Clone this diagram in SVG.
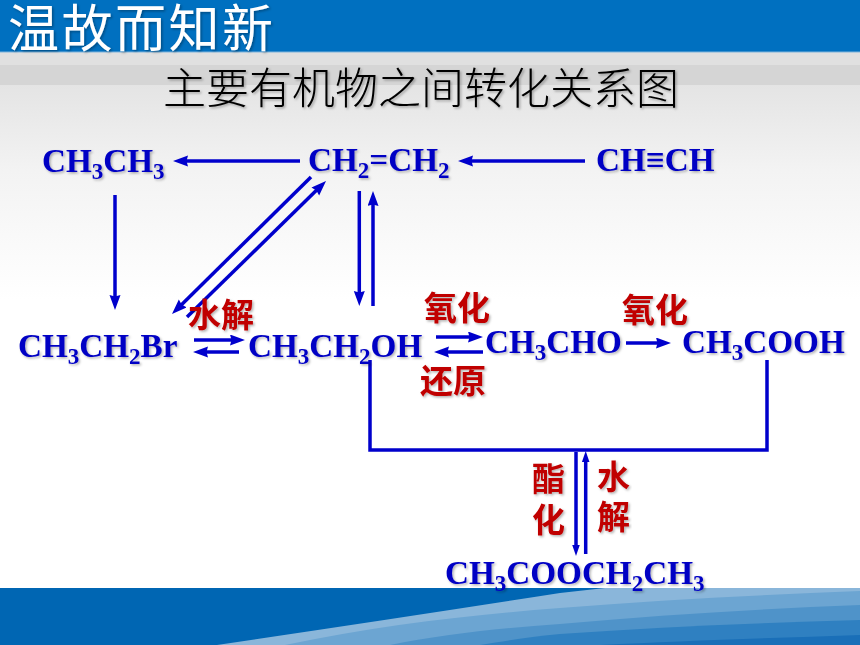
<svg xmlns="http://www.w3.org/2000/svg" width="860" height="645" viewBox="0 0 860 645">
<style>
.f{font-family:"Liberation Serif",serif;font-weight:700;font-size:33.2px;fill:#0000c4;filter:url(#s)}
.s{font-size:23px}
.c{font-family:"Liberation Sans","Noto Sans CJK SC",sans-serif}
.r{font-weight:700;font-size:33px;fill:#c00000;filter:url(#s)}
.l{fill:none;stroke:#0000cc;stroke-width:3.5}
.a{marker-end:url(#h)}
.b{marker-end:url(#m)}
</style>
<defs>
<linearGradient id="bg" x1="0" y1="0" x2="0" y2="1"><stop offset="0" stop-color="#e4e4e4"/><stop offset=".4" stop-color="#f3f3f3"/><stop offset="1" stop-color="#ffffff"/></linearGradient>
<filter id="s" x="-5%" y="-10%" width="110%" height="125%"><feDropShadow dx="1.5" dy="1.5" stdDeviation="1" flood-color="#000" flood-opacity=".3"/></filter>
<marker id="h" markerUnits="userSpaceOnUse" markerWidth="16" markerHeight="12" refX="7" refY="5.5" orient="auto"><path d="M0 0L15 5.5L0 11L1.5 5.5Z" fill="#0000cc"/></marker>
<marker id="m" markerUnits="userSpaceOnUse" markerWidth="12" markerHeight="8" refX="4" refY="3.75" orient="auto"><path d="M0 0L11 3.75L0 7.5Z" fill="#0000cc"/></marker>
</defs>
<rect width="860" height="645" fill="#fff"/>
<rect y="52" width="860" height="13" fill="#e0e0e0"/>
<rect y="65" width="860" height="20" fill="#d5d5d5"/>
<rect y="85" width="860" height="215" fill="url(#bg)"/>
<rect width="860" height="52" fill="#0070c0"/>
<rect y="51.5" width="860" height="1" fill="#7fb3dc"/>
<rect y="588" width="860" height="57" fill="#0066b3"/>
<path d="M217 645Q400 618 560 593L605 588H860V645Z" fill="#8ab6da"/>
<path d="M285 645C380 625 470 615 560 608C660 600 760 595 860 591V645Z" fill="#6ca5d2"/>
<path d="M390 645C440 635 500 628 560 624C660 615 760 609 860 605V645Z" fill="#4f93c9"/>
<path d="M480 645C510 640 535 636 560 634C660 627 760 623 860 620V645Z" fill="#2f80c1"/>
<path d="M600 645C680 641 770 638 860 635V645Z" fill="#1a6fb8"/>
<text class="c" x="8" y="46.5" font-weight="400" font-size="51" letter-spacing="2.5" fill="#fff" filter="url(#s)">温故而知新</text>
<text class="c" x="163" y="104" font-weight="300" font-size="43" fill="#000" filter="url(#s)">主要有机物之间转化关系图</text>
<g id="connectors">
<path class="l a" d="M300 161H181"/>
<path class="l a" d="M585 161H466"/>
<path class="l a" d="M115 195V302"/>
<path class="l a" d="M311 177L177.7 308.4"/>
<path class="l a" d="M187 317L320.3 186.6"/>
<path class="l a" d="M359.3 191V298"/>
<path class="l a" d="M373 306V199"/>
<path class="l a" d="M194 340H237"/>
<path class="l a" d="M239 352H201"/>
<path class="l a" d="M436 337H475"/>
<path class="l a" d="M483 352H442"/>
<path class="l a" d="M626 343H663"/>
<path class="l" d="M370 360V450H767V360"/>
<path class="l b" d="M576 452V549"/>
<path class="l b" d="M585.7 554V458"/>
</g>
<g id="ethane"><text class="f" x="42" y="172">CH<tspan class="s" dy="7">3</tspan><tspan dy="-7">CH</tspan><tspan class="s" dy="7">3</tspan></text></g>
<g id="ethene"><text class="f" x="308" y="171">CH<tspan class="s" dy="7">2</tspan><tspan dy="-7">=CH</tspan><tspan class="s" dy="7">2</tspan></text></g>
<g id="ethyne"><text class="f" x="596" y="171">CH≡CH</text></g>
<g id="bromoethane"><text class="f" x="18" y="357">CH<tspan class="s" dy="7">3</tspan><tspan dy="-7">CH</tspan><tspan class="s" dy="7">2</tspan><tspan dy="-7">Br</tspan></text></g>
<g id="ethanol"><text class="f" x="248" y="357">CH<tspan class="s" dy="7">3</tspan><tspan dy="-7">CH</tspan><tspan class="s" dy="7">2</tspan><tspan dy="-7">OH</tspan></text></g>
<g id="acetaldehyde"><text class="f" x="485" y="353">CH<tspan class="s" dy="7">3</tspan><tspan dy="-7">CHO</tspan></text></g>
<g id="acetic"><text class="f" x="682" y="353">CH<tspan class="s" dy="7">3</tspan><tspan dy="-7">COOH</tspan></text></g>
<g id="ester"><text class="f" x="445" y="584">CH<tspan class="s" dy="7">3</tspan><tspan dy="-7">COOCH</tspan><tspan class="s" dy="7">2</tspan><tspan dy="-7">CH</tspan><tspan class="s" dy="7">3</tspan></text></g>
<g id="labels">
<text class="c r" x="188" y="327">水解</text>
<text class="c r" x="424" y="320">氧化</text>
<text class="c r" x="622" y="322">氧化</text>
<text class="c r" x="420" y="393">还原</text>
<text class="c r"><tspan x="532" y="491">酯</tspan><tspan x="532" y="532">化</tspan></text>
<text class="c r"><tspan x="597" y="489">水</tspan><tspan x="597" y="529">解</tspan></text>
</g>
</svg>
